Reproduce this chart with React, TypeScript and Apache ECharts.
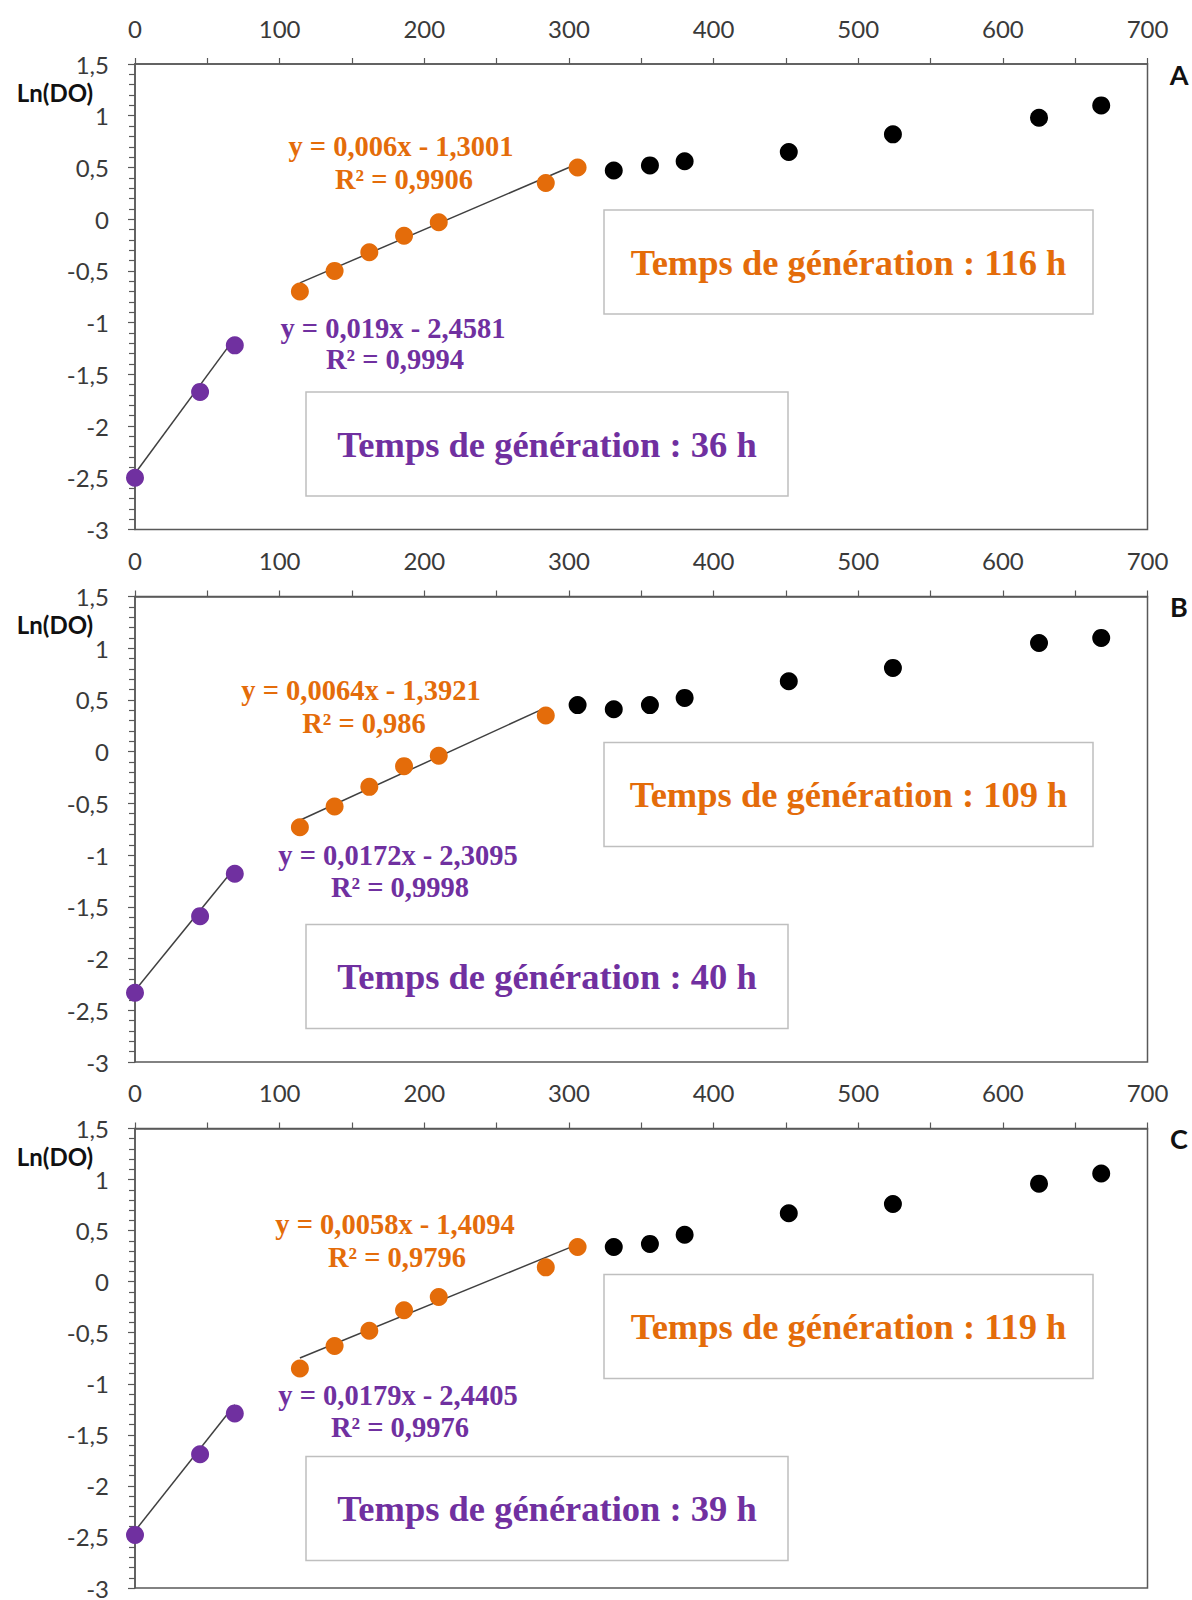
import React, { useEffect, useRef } from "react";
import * as echarts from "echarts";

// ---------- data ----------
const panelLetters = ["A", "B", "C"];

const purpleX = [0, 45, 69];
const orangeXA = [114, 138, 162, 186, 210, 284, 306];
const blackXA = [331, 356, 380, 452, 524, 625, 668];
const orangeXB = [114, 138, 162, 186, 210, 284];
const blackXB = [306, 331, 356, 380, 452, 524, 625, 668];
const orangeXC = [114, 138, 162, 186, 210, 284, 306];
const blackXC = [331, 356, 380, 452, 524, 625, 668];

const purpleYA = [-2.5, -1.67, -1.22];
const orangeYA = [-0.7, -0.5, -0.32, -0.16, -0.03, 0.35, 0.5];
const blackYA = [0.47, 0.52, 0.56, 0.65, 0.82, 0.98, 1.1];

const purpleYB = [-2.33, -1.59, -1.18];
const orangeYB = [-0.73, -0.53, -0.34, -0.14, -0.04, 0.35];
const blackYB = [0.45, 0.41, 0.45, 0.52, 0.68, 0.81, 1.05, 1.1];

const purpleYC = [-2.48, -1.69, -1.29];
const orangeYC = [-0.85, -0.63, -0.48, -0.28, -0.15, 0.14, 0.34];
const blackYC = [0.34, 0.37, 0.46, 0.67, 0.76, 0.96, 1.06];

const purpleSlope = [0.019, 0.0172, 0.0179];
const purpleIntercept = [-2.4581, -2.3095, -2.4405];
const purpleR2 = [0.9994, 0.9998, 0.9976];
const orangeSlope = [0.006, 0.0064, 0.0058];
const orangeIntercept = [-1.3001, -1.3921, -1.4094];
const orangeR2 = [0.9906, 0.986, 0.9796];

const orangeGenTime = [116, 109, 119];
const purpleGenTime = [36, 40, 39];

const xTickMin = 0;
const xTickMax = 700;
const xTickStep = 100;
const yTickMin = -3;
const yTickMax = 1.5;
const yTickStep = 0.5;

// ---------- styling ----------
const ORANGE = "#E46C0A";
const PURPLE = "#7030A0";
const BLACK = "#000000";
const AXIS = "#595959";
const LABEL = "#3a3a3a";
const SANS = "Lato, 'Open Sans', sans-serif";
const SERIF = "'Liberation Serif', 'Times New Roman', serif";

const W = 1192;
const H = 1600;
const GRID_LEFT = 135;
const GRID_RIGHT = 1147.5;
const GRID_TOPS = [64, 596.5, 1128.5];
const GRID_H = 465.5;

const comma = (v: number) => String(v).replace(".", ",");

const panelData = [
  { px: purpleX, py: purpleYA, ox: orangeXA, oy: orangeYA, bx: blackXA, by: blackYA },
  { px: purpleX, py: purpleYB, ox: orangeXB, oy: orangeYB, bx: blackXB, by: blackYB },
  { px: purpleX, py: purpleYC, ox: orangeXC, oy: orangeYC, bx: blackXC, by: blackYC },
];

// annotation offsets relative to each panel's top (px)
const eqPos = [
  { o: [401, 82], or: [404, 115], p: [393, 264], pr: [395, 295] },
  { o: [361, 94], or: [364, 127], p: [398, 259], pr: [400, 291] },
  { o: [395, 96], or: [397, 129], p: [398, 267], pr: [400, 299] },
];

function zip(xs: number[], ys: number[]) {
  return xs.map((x, i) => [x, ys[i]]);
}

function trend(xs: number[], a: number, b: number) {
  const x0 = Math.min(...xs);
  const x1 = Math.max(...xs);
  return [
    [x0, a * x0 + b],
    [x1, a * x1 + b],
  ];
}

export default function App() {
  const ref = useRef<HTMLDivElement>(null);

  useEffect(() => {
    if (!ref.current) return;
    const chart = echarts.init(ref.current, undefined, { renderer: "svg" });

    const grids: any[] = [];
    const xAxes: any[] = [];
    const yAxes: any[] = [];
    const series: any[] = [];
    const graphics: any[] = [];

    panelData.forEach((d, i) => {
      const top = GRID_TOPS[i];
      grids.push({
        left: GRID_LEFT,
        width: GRID_RIGHT - GRID_LEFT,
        top,
        height: GRID_H,
        show: true,
        borderColor: AXIS,
        borderWidth: 1.5,
        backgroundColor: "transparent",
      });
      xAxes.push({
        type: "value",
        gridIndex: i,
        position: "top",
        min: xTickMin,
        max: xTickMax,
        interval: xTickStep,
        axisLine: { show: true, onZero: false, lineStyle: { color: AXIS, width: 1.5 } },
        axisTick: { show: true, length: 6, lineStyle: { color: AXIS, width: 1.2 } },
        minorTick: { show: true, splitNumber: 2, length: 6, lineStyle: { color: AXIS, width: 1.2 } },
        axisLabel: { fontSize: 24, fontFamily: SANS, color: LABEL, margin: 24 },
        splitLine: { show: false },
      });
      yAxes.push({
        type: "value",
        gridIndex: i,
        min: yTickMin,
        max: yTickMax,
        interval: yTickStep,
        axisLine: { show: true, onZero: false, lineStyle: { color: AXIS, width: 1.5 } },
        axisTick: { show: true, length: 7, lineStyle: { color: AXIS, width: 1.2 } },
        minorTick: { show: true, splitNumber: 5, length: 6, lineStyle: { color: AXIS, width: 1.2 } },
        axisLabel: {
          fontSize: 24,
          fontFamily: SANS,
          color: LABEL,
          margin: 26,
          formatter: (v: number) => comma(v),
        },
        splitLine: { show: false },
      });

      series.push({
        type: "line",
        xAxisIndex: i,
        yAxisIndex: i,
        data: trend(d.px, purpleSlope[i], purpleIntercept[i]),
        symbol: "none",
        lineStyle: { color: "#404040", width: 1.5 },
        z: 1,
      });
      series.push({
        type: "line",
        xAxisIndex: i,
        yAxisIndex: i,
        data: trend(d.ox, orangeSlope[i], orangeIntercept[i]),
        symbol: "none",
        lineStyle: { color: "#404040", width: 1.5 },
        z: 1,
      });
      series.push({
        type: "scatter",
        xAxisIndex: i,
        yAxisIndex: i,
        data: zip(d.px, d.py),
        symbolSize: 18,
        itemStyle: { color: PURPLE, opacity: 1 },
        z: 2,
      });
      series.push({
        type: "scatter",
        xAxisIndex: i,
        yAxisIndex: i,
        data: zip(d.ox, d.oy),
        symbolSize: 18,
        itemStyle: { color: ORANGE, opacity: 1 },
        z: 2,
      });
      series.push({
        type: "scatter",
        xAxisIndex: i,
        yAxisIndex: i,
        data: zip(d.bx, d.by),
        symbolSize: 18,
        itemStyle: { color: BLACK, opacity: 1 },
        z: 2,
      });

      // y axis name
      graphics.push({
        type: "text",
        x: 55,
        y: top + 28,
        style: {
          text: "Ln(DO)",
          fontSize: 24,
          fontWeight: "bold",
          fontFamily: SANS,
          fill: "#111",
          textAlign: "center",
          textVerticalAlign: "middle",
        },
      });
      // panel letter
      graphics.push({
        type: "text",
        x: 1179,
        y: top + 10,
        style: {
          text: panelLetters[i],
          fontSize: 27,
          fontWeight: "bold",
          fontFamily: SANS,
          fill: "#111",
          textAlign: "center",
          textVerticalAlign: "middle",
        },
      });

      // boxes
      graphics.push({
        type: "rect",
        shape: { x: 604, y: top + 146, width: 489, height: 104 },
        style: { fill: "#fff", stroke: "#BFBFBF", lineWidth: 1.5 },
      });
      graphics.push({
        type: "text",
        x: 848.5,
        y: top + 198,
        style: {
          text: `Temps de génération : ${orangeGenTime[i]} h`,
          fontSize: 36.5,
          fontWeight: "bold",
          fontFamily: SERIF,
          fill: ORANGE,
          textAlign: "center",
          textVerticalAlign: "middle",
        },
      });
      graphics.push({
        type: "rect",
        shape: { x: 306, y: top + 328, width: 482, height: 104 },
        style: { fill: "#fff", stroke: "#BFBFBF", lineWidth: 1.5 },
      });
      graphics.push({
        type: "text",
        x: 547,
        y: top + 380,
        style: {
          text: `Temps de génération : ${purpleGenTime[i]} h`,
          fontSize: 36.5,
          fontWeight: "bold",
          fontFamily: SERIF,
          fill: PURPLE,
          textAlign: "center",
          textVerticalAlign: "middle",
        },
      });

      // equations
      const ep = eqPos[i];
      const eqText = (a: number, b: number) =>
        `y = ${comma(a)}x - ${comma(Math.abs(b))}`;
      const mk = (pos: number[], text: string, color: string) => ({
        type: "text",
        x: pos[0],
        y: top + pos[1],
        style: {
          text,
          fontSize: 28.5,
          fontWeight: "bold",
          fontFamily: SERIF,
          fill: color,
          textAlign: "center",
          textVerticalAlign: "middle",
        },
      });
      graphics.push(mk(ep.o, eqText(orangeSlope[i], orangeIntercept[i]), ORANGE));
      graphics.push(mk(ep.or, `R² = ${comma(orangeR2[i])}`, ORANGE));
      graphics.push(mk(ep.p, eqText(purpleSlope[i], purpleIntercept[i]), PURPLE));
      graphics.push(mk(ep.pr, `R² = ${comma(purpleR2[i])}`, PURPLE));
    });

    chart.setOption({
      animation: false,
      backgroundColor: "#ffffff",
      grid: grids,
      xAxis: xAxes,
      yAxis: yAxes,
      series,
      graphic: graphics,
    });

    return () => chart.dispose();
  }, []);

  return (
    <div
      ref={ref}
      style={{ position: "absolute", left: 0, top: 0, width: W, height: H }}
    />
  );
}
